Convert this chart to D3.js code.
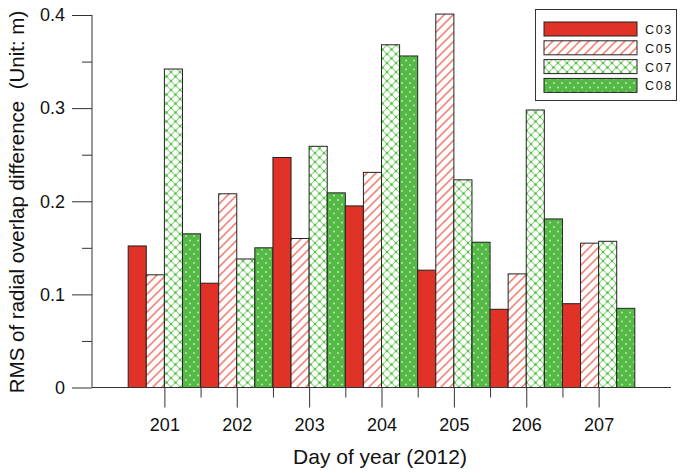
<!DOCTYPE html>
<html>
<head>
<meta charset="utf-8">
<script src="https://cdn.jsdelivr.net/npm/d3@7"></script>
<style>
  html, body { margin: 0; padding: 0; background: #fff; }
  svg { display: block; font-family: "Liberation Sans", Arial, Helvetica, sans-serif; }
</style>
</head>
<body>
<svg id="chart" width="680" height="473"></svg>
<script>
// Days of year 2012 and the four satellites compared
const days = [201, 202, 203, 204, 205, 206, 207];
const series = ["C03", "C05", "C07", "C08"];

// RMS of radial overlap difference (m), one array per satellite, ordered by day
const c03 = [0.152, 0.112, 0.247, 0.195, 0.126, 0.084, 0.090];
const c05 = [0.121, 0.208, 0.160, 0.231, 0.401, 0.122, 0.155];
const c07 = [0.342, 0.138, 0.259, 0.368, 0.223, 0.298, 0.157];
const c08 = [0.165, 0.150, 0.209, 0.356, 0.156, 0.181, 0.085];

const yTicks = [0, 0.1, 0.2, 0.3, 0.4];
const yMinorTicks = [0.05, 0.15, 0.25, 0.35];
const xMinorTicks = [201.5, 202.5, 203.5, 204.5, 205.5, 206.5];

const valuesBySeries = { C03: c03, C05: c05, C07: c07, C08: c08 };
const rows = [];
days.forEach((d, i) => series.forEach(s => rows.push({ day: d, series: s, value: valuesBySeries[s][i] })));

const svg = d3.select("#chart");
const axisColor = "#333";

// Fill patterns for each series
const defs = svg.append("defs");

// C05: white with salmon diagonal hatching
const p05 = defs.append("pattern").attr("id", "pat-c05")
  .attr("patternUnits", "userSpaceOnUse").attr("width", 9).attr("height", 9);
p05.append("rect").attr("width", 9).attr("height", 9).attr("fill", "#fff");
p05.append("path").attr("d", "M-2,11 L11,-2 M-2,2 L2,-2 M7,11 L11,7")
  .attr("stroke", "#f3877c").attr("stroke-width", 1.6).attr("fill", "none");

// C07: white with green diamond lattice and dots at the crossings
const p07 = defs.append("pattern").attr("id", "pat-c07")
  .attr("patternUnits", "userSpaceOnUse").attr("width", 9).attr("height", 9);
p07.append("rect").attr("width", 9).attr("height", 9).attr("fill", "#fff");
p07.append("path").attr("d", "M0,0 L9,9 M9,0 L0,9")
  .attr("stroke", "#94da88").attr("stroke-width", 1.2).attr("fill", "none");
[[0, 0], [9, 0], [0, 9], [9, 9], [4.5, 4.5]].forEach(([cx, cy]) =>
  p07.append("circle").attr("cx", cx).attr("cy", cy).attr("r", 1.2).attr("fill", "#55c046"));

// C08: solid green with pale dots
const p08 = defs.append("pattern").attr("id", "pat-c08")
  .attr("patternUnits", "userSpaceOnUse").attr("width", 8).attr("height", 9);
p08.append("rect").attr("width", 8).attr("height", 9).attr("fill", "#55b946");
[[2, 2], [6, 6.5]].forEach(([cx, cy]) =>
  p08.append("circle").attr("cx", cx).attr("cy", cy).attr("r", 0.9).attr("fill", "#c6ecbd"));

const fills = { C03: "#e03226", C05: "url(#pat-c05)", C07: "url(#pat-c07)", C08: "url(#pat-c08)" };

// Scales
const x = d3.scaleLinear().domain([200, 208]).range([92, 671]);
const dayWidth = x(201) - x(200);
const xInner = d3.scaleBand().domain(series).range([-dayWidth / 2, dayWidth / 2]).paddingInner(0);
const y = d3.scaleLinear().domain([0, 0.4]).range([387.5, 15]);

// Bars
svg.append("g").selectAll("rect").data(rows).join("rect")
  .attr("x", d => x(d.day) + xInner(d.series))
  .attr("y", d => y(d.value))
  .attr("width", xInner.bandwidth())
  .attr("height", d => y(0) - y(d.value))
  .attr("fill", d => fills[d.series])
  .attr("stroke", "#222")
  .attr("stroke-width", 1);

// Y axis: major ticks with labels, minor ticks without
const yAxis = svg.append("g").attr("transform", `translate(${x(200)},0)`)
  .call(d3.axisLeft(y).tickValues(yTicks).tickSize(20).tickPadding(7)
    .tickFormat(d => d === 0 ? "0" : d3.format(".1f")(d)));
yAxis.select(".domain").remove();
yAxis.append("line").attr("y1", y(0)).attr("y2", y(0.4)).attr("stroke", axisColor);
svg.append("g").attr("transform", `translate(${x(200)},0)`)
  .call(d3.axisLeft(y).tickValues(yMinorTicks).tickSize(10).tickFormat(""))
  .call(g => g.select(".domain").remove());

// X axis: major ticks at each day, minor ticks between days
const xAxis = svg.append("g").attr("transform", `translate(0,${y(0)})`)
  .call(d3.axisBottom(x).tickValues(days).tickSize(20).tickPadding(11).tickFormat(d3.format("d")));
xAxis.select(".domain").remove();
xAxis.append("line").attr("x1", x(200)).attr("x2", x(208)).attr("stroke", axisColor);
svg.append("g").attr("transform", `translate(0,${y(0)})`)
  .call(d3.axisBottom(x).tickValues(xMinorTicks).tickSize(10).tickFormat(""))
  .call(g => g.select(".domain").remove());

svg.selectAll(".tick line").attr("stroke", axisColor);
svg.selectAll(".tick text").attr("fill", "#111").style("font-size", "18px")
  .style("font-family", "\"Liberation Sans\", Arial, sans-serif");

// Axis titles
svg.append("text")
  .attr("x", 380).attr("y", 464)
  .attr("text-anchor", "middle")
  .attr("fill", "#111").style("font-size", "21px")
  .text("Day of year (2012)");
svg.append("text")
  .attr("transform", "translate(24,202) rotate(-90)")
  .attr("text-anchor", "middle")
  .attr("fill", "#111").style("font-size", "20.5px")
  .style("white-space", "pre")
  .attr("xml:space", "preserve")
  .text("RMS of radial overlap difference  (Unit: m)");

// Legend
const legend = svg.append("g");
legend.append("rect")
  .attr("x", 535.5).attr("y", 9.5).attr("width", 141).attr("height", 91)
  .attr("fill", "#fff").attr("stroke", axisColor).attr("stroke-width", 1);
series.forEach((s, i) => {
  const yy = 22 + i * 18.8;
  legend.append("rect")
    .attr("x", 544).attr("y", yy).attr("width", 93).attr("height", 14)
    .attr("fill", fills[s]).attr("stroke", "#222").attr("stroke-width", 1);
  legend.append("text")
    .attr("x", 645).attr("y", yy + 12)
    .attr("fill", "#111").style("font-size", "12.5px").style("letter-spacing", "1.6px")
    .text(s);
});
</script>
</body>
</html>
